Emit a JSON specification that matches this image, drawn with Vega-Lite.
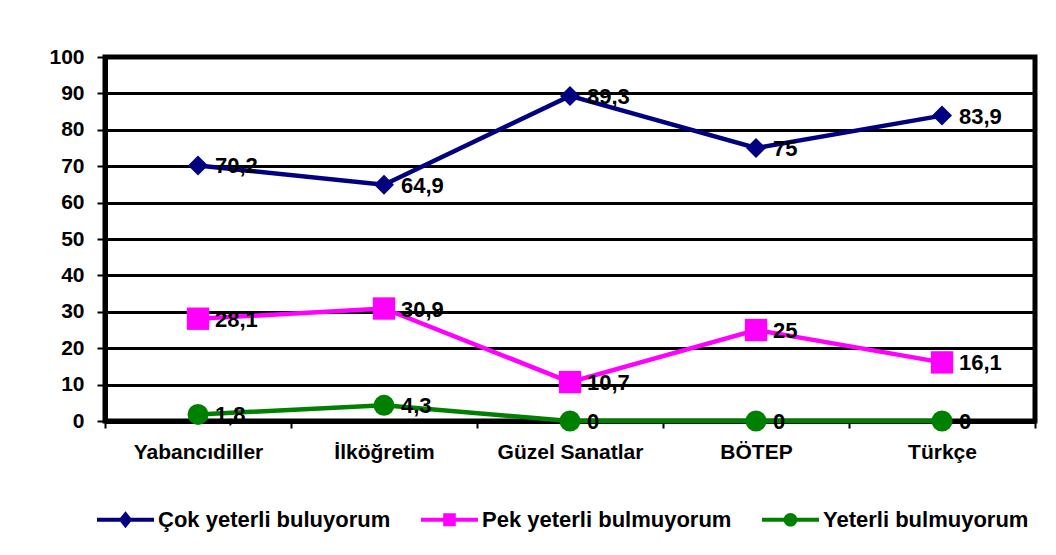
{
  "$schema": "https://vega.github.io/schema/vega-lite/v6.json",
  "width": 930,
  "height": 364,
  "autosize": "none",
  "padding": {"left": 105, "top": 57, "right": 21, "bottom": 134},
  "background": "white",
  "config": {
    "locale": {"number": {"decimal": ",", "thousands": ".", "grouping": [3], "currency": ["", " TL"]}},
    "view": {"stroke": "black", "strokeWidth": 5},
    "font": "Liberation Sans",
    "axis": {
      "labelFont": "Liberation Sans",
      "labelFontWeight": "bold",
      "labelFontSize": 21,
      "labelColor": "black",
      "domainColor": "black",
      "domainWidth": 5,
      "tickColor": "black",
      "tickWidth": 2,
      "tickSize": 8,
      "title": null
    },
    "legend": {
      "orient": "none",
      "legendX": -8,
      "legendY": 434,
      "direction": "horizontal",
      "title": null,
      "labelFont": "Liberation Sans",
      "labelFontWeight": "bold",
      "labelFontSize": 22,
      "labelColor": "black",
      "labelOffset": 4,
      "labelLimit": 500,
      "columnPadding": 30,
      "symbolSize": 3249,
      "symbolStrokeWidth": 0,
      "symbolOpacity": 1
    }
  },
  "data": {
    "values": [
      {"kategori": "Yabancıdiller", "seri": "Çok yeterli buluyorum", "deger": 70.2},
      {"kategori": "İlköğretim", "seri": "Çok yeterli buluyorum", "deger": 64.9},
      {"kategori": "Güzel Sanatlar", "seri": "Çok yeterli buluyorum", "deger": 89.3},
      {"kategori": "BÖTEP", "seri": "Çok yeterli buluyorum", "deger": 75},
      {"kategori": "Türkçe", "seri": "Çok yeterli buluyorum", "deger": 83.9},
      {"kategori": "Yabancıdiller", "seri": "Pek yeterli bulmuyorum", "deger": 28.1},
      {"kategori": "İlköğretim", "seri": "Pek yeterli bulmuyorum", "deger": 30.9},
      {"kategori": "Güzel Sanatlar", "seri": "Pek yeterli bulmuyorum", "deger": 10.7},
      {"kategori": "BÖTEP", "seri": "Pek yeterli bulmuyorum", "deger": 25},
      {"kategori": "Türkçe", "seri": "Pek yeterli bulmuyorum", "deger": 16.1},
      {"kategori": "Yabancıdiller", "seri": "Yeterli bulmuyorum", "deger": 1.8},
      {"kategori": "İlköğretim", "seri": "Yeterli bulmuyorum", "deger": 4.3},
      {"kategori": "Güzel Sanatlar", "seri": "Yeterli bulmuyorum", "deger": 0},
      {"kategori": "BÖTEP", "seri": "Yeterli bulmuyorum", "deger": 0},
      {"kategori": "Türkçe", "seri": "Yeterli bulmuyorum", "deger": 0}
    ]
  },
  "encoding": {
    "x": {
      "field": "kategori",
      "type": "nominal",
      "sort": ["Yabancıdiller", "İlköğretim", "Güzel Sanatlar", "BÖTEP", "Türkçe"],
      "bandPosition": 0.5,
      "scale": {"type": "band", "paddingInner": 0, "paddingOuter": 0},
      "axis": {"labelAngle": 0, "tickBand": "extent", "labelPadding": 13, "tickSize": 7, "grid": false}
    },
    "y": {
      "field": "deger",
      "type": "quantitative",
      "scale": {"domain": [0, 100], "nice": false},
      "axis": {"values": [0, 10, 20, 30, 40, 50, 60, 70, 80, 90, 100], "grid": true, "gridColor": "black", "gridWidth": 3, "gridOpacity": 1, "labelPadding": 13, "domain": true}
    }
  },
  "layer": [
    {
      "mark": {"type": "line", "strokeWidth": 4.5},
      "encoding": {
        "color": {
          "field": "seri",
          "type": "nominal",
          "scale": {"domain": ["Çok yeterli buluyorum", "Pek yeterli bulmuyorum", "Yeterli bulmuyorum"], "range": ["#000080", "#FF00FF", "#008000"]}
        }
      }
    },
    {
      "mark": {"type": "point", "filled": true, "opacity": 0},
      "encoding": {
        "color": {
          "field": "seri",
          "type": "nominal",
          "scale": {"domain": ["Çok yeterli buluyorum", "Pek yeterli bulmuyorum", "Yeterli bulmuyorum"], "range": ["#000080", "#FF00FF", "#008000"]}
        },
        "shape": {
          "field": "seri",
          "type": "nominal",
          "scale": {"domain": ["Çok yeterli buluyorum", "Pek yeterli bulmuyorum", "Yeterli bulmuyorum"], "range": ["M-1,-0.07H1V0.07H-1Z M0,-0.3L0.24,0L0,0.3L-0.24,0Z", "M-1,-0.07H1V0.07H-1Z M-0.22,-0.23H0.22V0.23H-0.22Z", "M-1,-0.07H1V0.07H-1Z M0.24,0A0.24,0.24 0 1,1 -0.24,0A0.24,0.24 0 1,1 0.24,0Z"]}
        }
      }
    },
    {
      "transform": [{"filter": "datum.seri === 'Çok yeterli buluyorum'"}],
      "mark": {"type": "point", "filled": true, "opacity": 1, "shape": "diamond", "size": 400},
      "encoding": {
        "color": {"field": "seri", "type": "nominal"}
      }
    },
    {
      "transform": [{"filter": "datum.seri === 'Pek yeterli bulmuyorum'"}],
      "mark": {"type": "point", "filled": true, "opacity": 1, "shape": "square", "size": 500},
      "encoding": {
        "color": {"field": "seri", "type": "nominal"}
      }
    },
    {
      "transform": [{"filter": "datum.seri === 'Yeterli bulmuyorum'"}],
      "mark": {"type": "point", "filled": true, "opacity": 1, "shape": "circle", "size": 441},
      "encoding": {
        "color": {"field": "seri", "type": "nominal"}
      }
    },
    {
      "mark": {"type": "text", "align": "left", "baseline": "middle", "dx": 17, "dy": 1, "font": "Liberation Sans", "fontWeight": "bold", "fontSize": 22, "color": "black"},
      "encoding": {
        "text": {"field": "deger", "type": "quantitative", "format": ".1~f"}
      }
    }
  ]
}
